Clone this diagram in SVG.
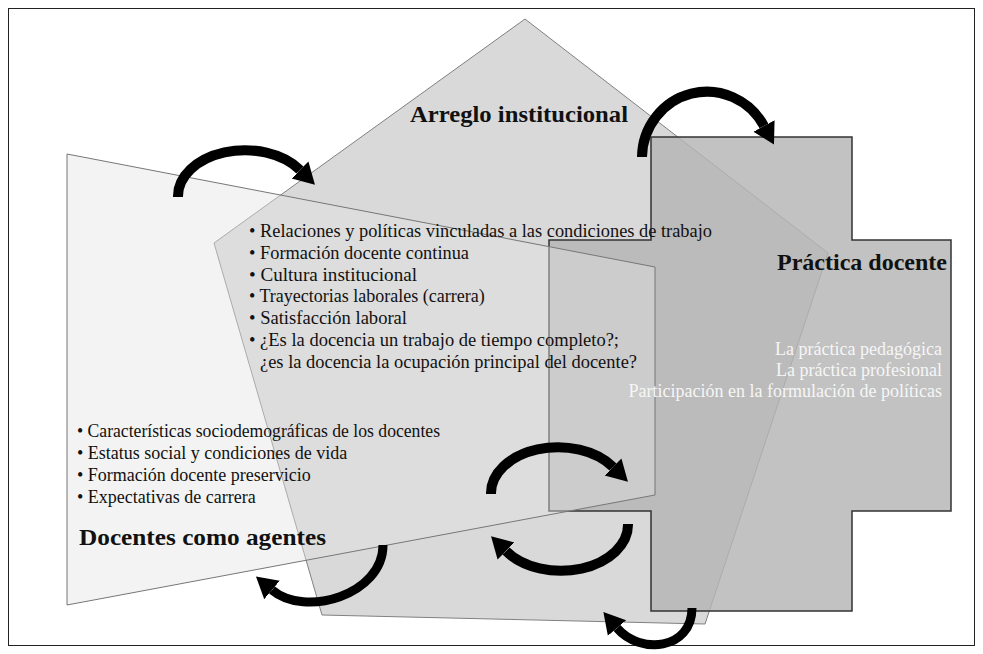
<svg xmlns="http://www.w3.org/2000/svg" width="983" height="654" viewBox="0 0 983 654">
<defs>
<marker id="ah" markerUnits="userSpaceOnUse" viewBox="0 -14 24 28" refX="0" refY="0" markerWidth="24" markerHeight="28" orient="auto"><path d="M0,-12 L21,0 L0,12 Z" fill="#000"/></marker>
</defs>
<style>
.t{font-family:"Liberation Serif","Times New Roman",serif;font-size:18px;fill:#111}
.h{font-family:"Liberation Serif","Times New Roman",serif;font-size:24px;font-weight:bold;fill:#111}
.w{font-family:"Liberation Serif","Times New Roman",serif;font-size:18px;fill:#f6f6f6;text-anchor:end}
.arr{fill:none;stroke:#000;stroke-width:10;marker-end:url(#ah)}
.arr2{fill:none;stroke:#000;stroke-width:9;marker-end:url(#ah)}
</style>
<rect x="8.5" y="8.5" width="966" height="637" fill="#fff" stroke="#222" stroke-width="1"/>
<g id="node-arreglo-institucional">
<polygon points="525,19 828,253 705,624 322,615 214,243" fill="#d9d9d9" stroke="#808080" stroke-width="1"/>
</g>
<g id="node-practica-docente">
<polygon points="651,137 852,137 852,240 951,240 951,511 852,511 852,611 651,611 651,511 549,511 549,240 651,240" fill="#b5b5b5" fill-opacity="0.82" stroke="#333" stroke-width="1.5"/>
</g>
<g id="node-docentes-como-agentes">
<polygon points="67,154 655,267 655,495 67,605" fill="#e3e3e3" fill-opacity="0.43" stroke="#777" stroke-width="1"/>
</g>
<g id="labels-arreglo-institucional">
<text class="h" x="410" y="122" textLength="218" lengthAdjust="spacingAndGlyphs">Arreglo institucional</text>
<text class="t" x="249" y="237" textLength="463" lengthAdjust="spacingAndGlyphs">• Relaciones y políticas vinculadas a las condiciones de trabajo</text>
<text class="t" x="249" y="259" textLength="220" lengthAdjust="spacingAndGlyphs">• Formación docente continua</text>
<text class="t" x="249" y="281" textLength="168" lengthAdjust="spacingAndGlyphs">• Cultura institucional</text>
<text class="t" x="249" y="302">• Trayectorias laborales (carrera)</text>
<text class="t" x="249" y="324" textLength="158" lengthAdjust="spacingAndGlyphs">• Satisfacción laboral</text>
<text class="t" x="249" y="346" textLength="370" lengthAdjust="spacingAndGlyphs">• ¿Es la docencia un trabajo de tiempo completo?;</text>
<text class="t" x="260" y="368" textLength="377" lengthAdjust="spacingAndGlyphs">¿es la docencia la ocupación principal del docente?</text>
</g>
<g id="labels-practica-docente">
<text class="h" x="777" y="270" textLength="170" lengthAdjust="spacingAndGlyphs">Práctica docente</text>
<text class="w" x="942" y="355">La práctica pedagógica</text>
<text class="w" x="942" y="376">La práctica profesional</text>
<text class="w" x="942" y="397">Participación en la formulación de políticas</text>
</g>
<g id="labels-docentes-como-agentes">
<text class="t" x="77" y="437" textLength="363" lengthAdjust="spacingAndGlyphs">• Características sociodemográficas de los docentes</text>
<text class="t" x="77" y="459">• Estatus social y condiciones de vida</text>
<text class="t" x="77" y="481">• Formación docente preservicio</text>
<text class="t" x="77" y="503">• Expectativas de carrera</text>
<text class="h" x="79" y="545" textLength="247" lengthAdjust="spacingAndGlyphs">Docentes como agentes</text>
</g>
<g id="connectors">
<path class="arr" d="M178,197 A67,46 0 0 1 300,170"/>
<path class="arr" d="M642,157 A65,66 0 0 1 764,126"/>
<path class="arr" d="M491,494 A67,46 0 0 1 613,467"/>
<path class="arr" d="M628,524 A67,46 0 0 1 506,551"/>
<path class="arr2" d="M383,545 C383,595 305,618 272,590"/>
<path class="arr2" d="M692,608 C692,650 640,655 617,628"/>
</g>
</svg>
